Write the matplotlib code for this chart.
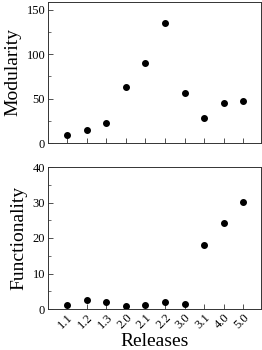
import numpy as np
import matplotlib
matplotlib.use("Agg")
from matplotlib import pyplot as plt
from matplotlib.ticker import MultipleLocator

releases = ['1.1', '1.2', '1.3', '2.0', '2.1', '2.2', '3.0', '3.1', '4.0', '5.0']
modularity = [9.4, 14.7, 22.2, 62.8, 90.6, 135.3, 56.8, 28.6, 45.1, 47.4]
functionality = [1.1, 2.5, 2.1, 0.9, 1.2, 2.0, 1.5, 17.9, 24.2, 30.1]

plt.rcParams['font.family'] = ['Liberation Serif', 'DejaVu Serif']

fig = plt.figure(figsize=(2.62, 3.5), dpi=100)
ax1 = fig.add_axes([48/262, 1 - 143/350, 213/262, 141/350])
ax2 = fig.add_axes([48/262, 1 - 309/350, 213/262, 142/350])

x = np.arange(len(releases))

def style(ax, major, minor):
    ax.tick_params(direction='in', length=3.5, width=0.6, labelsize=9,
                   top=False, right=False, pad=2, color='#333333')
    ax.tick_params(which='minor', direction='in', length=2, width=0.5,
                   top=False, right=False, color='#333333')
    ax.yaxis.set_major_locator(MultipleLocator(major))
    ax.yaxis.set_minor_locator(MultipleLocator(minor))
    ax.set_xticks(x)
    ax.set_xlim(-0.97, 9.9)
    for s in ax.spines.values():
        s.set_linewidth(0.7)
        s.set_color('#333333')

ax1.plot(x, modularity, 'o', color='black', ms=4)
style(ax1, 50, 25)
ax1.set_ylim(0, 159)
ax1.set_xticklabels([])
ax1.set_ylabel('Modularity', fontsize=14, labelpad=4)

ax2.plot(x, functionality, 'o', color='black', ms=4)
style(ax2, 10, 5)
ax2.set_ylim(0, 40)
ax2.set_xticklabels(releases, rotation=45, ha='right', rotation_mode='anchor')
ax2.set_ylabel('Functionality', fontsize=14, labelpad=4)
ax2.set_xlabel('Releases', fontsize=14, labelpad=1)

fig.savefig('out.png', dpi=100)
